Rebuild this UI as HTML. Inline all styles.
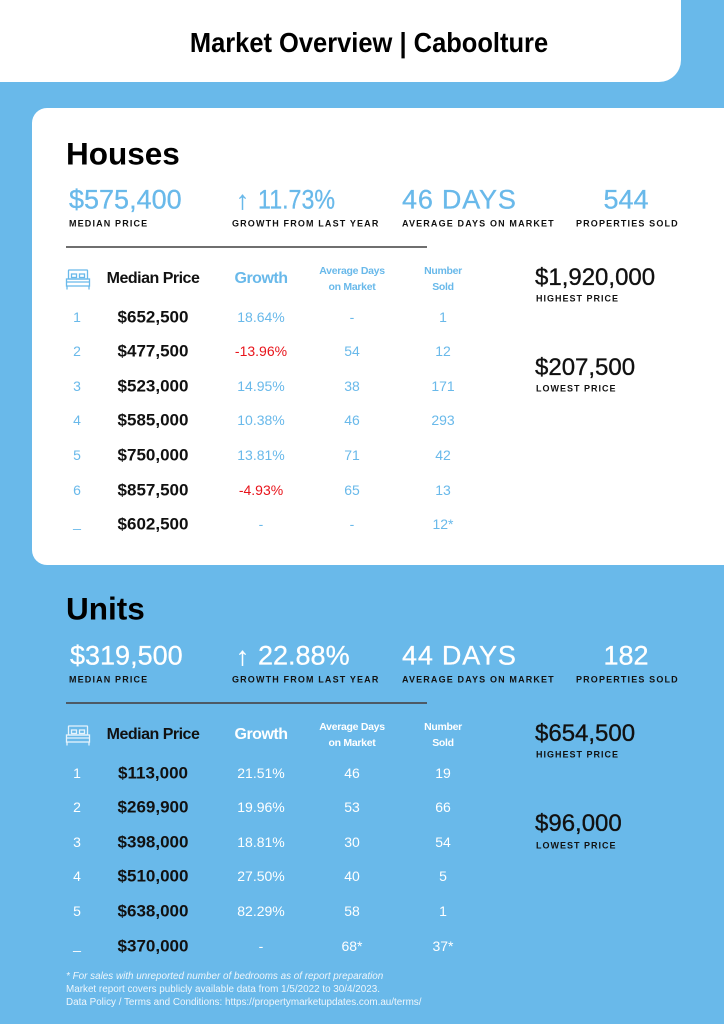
<!DOCTYPE html>
<html>
<head>
<meta charset="utf-8">
<style>
*{box-sizing:border-box}
html,body{margin:0;padding:0}
body{width:724px;height:1024px;background:#69b9ea;position:relative;overflow:hidden;font-family:"Liberation Sans",sans-serif}
.a{position:absolute;white-space:nowrap;line-height:1}
.c{transform:translate(-50%,-50%)}
.l{transform:translateY(-50%)}
.hdr{position:absolute;left:0;top:0;width:681px;height:82px;background:#fff;border-bottom-right-radius:22px}
.card{position:absolute;left:32px;top:108px;width:720px;height:457px;background:#fff;border-top-left-radius:15px;border-bottom-left-radius:15px}
.title{font-weight:bold;font-size:28px;color:#000;transform:translate(-50%,-50%) scaleX(0.91)}
.sec{font-weight:bold;font-size:31.5px;color:#000}
.stat{font-size:27px}
.blue{color:#69b9ea}
.white{color:#fff}
.stat.blue{-webkit-text-stroke:0.3px #69b9ea}
.stat.white{-webkit-text-stroke:0.3px #fff}
.lab{font-weight:bold;font-size:9px;letter-spacing:1.15px;color:#111}
.rule{position:absolute;left:66px;width:361px;height:2px;background:#6f6f6f}
.th{font-weight:bold;font-size:16px;letter-spacing:-0.5px}
.th2{font-weight:bold;font-size:10.5px;letter-spacing:-0.3px;line-height:16px;text-align:center}
.pr{font-weight:bold;font-size:17px;color:#111}
.v{font-size:14px}
.red{color:#e8141b}
.big{font-size:24px;color:#111;-webkit-text-stroke:0.35px #111}
.foot{font-size:9.9px;color:#eef6fc;line-height:13px}
</style>
</head>
<body>
<div class="hdr"></div>
<div class="a title" style="left:368.5px;top:43px">Market Overview | Caboolture</div>

<div class="card"></div>

<!-- HOUSES -->
<div class="a l sec" style="left:66px;top:154px">Houses</div>

<div class="a l stat blue" style="left:69px;top:200px">$575,400</div>
<div class="a l stat blue" style="left:236px;top:200px;font-size:26px">↑</div>
<div class="a l stat blue" style="left:258px;top:200px;transform:translateY(-50%) scaleX(0.86);transform-origin:left center">11.73%</div>
<div class="a l stat blue" style="left:402px;top:200px;letter-spacing:0.8px">46 DAYS</div>
<div class="a c stat blue" style="left:626px;top:200px">544</div>

<div class="a l lab" style="left:69px;top:224px">MEDIAN PRICE</div>
<div class="a l lab" style="left:232px;top:224px">GROWTH FROM LAST YEAR</div>
<div class="a l lab" style="left:402px;top:224px">AVERAGE DAYS ON MARKET</div>
<div class="a l lab" style="left:576px;top:224px">PROPERTIES SOLD</div>

<div class="rule" style="top:246px"></div>

<svg class="a" style="left:65px;top:269px" width="26" height="22" viewBox="0 0 26 22" fill="none" stroke="#69b9ea" stroke-width="1.3">
  <rect x="3.5" y="1" width="19" height="9" rx="0.5"/>
  <rect x="6.5" y="5" width="5" height="3.5"/>
  <rect x="14.5" y="5" width="5" height="3.5"/>
  <rect x="1.5" y="10" width="23" height="7"/>
  <line x1="1.5" y1="13" x2="24.5" y2="13"/>
  <line x1="2" y1="17" x2="2" y2="20.5"/>
  <line x1="24" y1="17" x2="24" y2="20.5"/>
</svg>
<div class="a c th" style="left:153px;top:279px;color:#111">Median Price</div>
<div class="a c th blue" style="left:261px;top:279px">Growth</div>
<div class="a c th2 blue" style="left:352px;top:279px">Average Days<br>on Market</div>
<div class="a c th2 blue" style="left:443px;top:279px">Number<br>Sold</div>

<!-- houses rows -->
<div class="a c v blue" style="left:77px;top:317px">1</div>
<div class="a c pr" style="left:153px;top:317px">$652,500</div>
<div class="a c v blue" style="left:261px;top:317px">18.64%</div>
<div class="a c v blue" style="left:352px;top:317px">-</div>
<div class="a c v blue" style="left:443px;top:317px">1</div>

<div class="a c v blue" style="left:77px;top:351px">2</div>
<div class="a c pr" style="left:153px;top:351px">$477,500</div>
<div class="a c v red" style="left:261px;top:351px">-13.96%</div>
<div class="a c v blue" style="left:352px;top:351px">54</div>
<div class="a c v blue" style="left:443px;top:351px">12</div>

<div class="a c v blue" style="left:77px;top:386px">3</div>
<div class="a c pr" style="left:153px;top:386px">$523,000</div>
<div class="a c v blue" style="left:261px;top:386px">14.95%</div>
<div class="a c v blue" style="left:352px;top:386px">38</div>
<div class="a c v blue" style="left:443px;top:386px">171</div>

<div class="a c v blue" style="left:77px;top:420px">4</div>
<div class="a c pr" style="left:153px;top:420px">$585,000</div>
<div class="a c v blue" style="left:261px;top:420px">10.38%</div>
<div class="a c v blue" style="left:352px;top:420px">46</div>
<div class="a c v blue" style="left:443px;top:420px">293</div>

<div class="a c v blue" style="left:77px;top:455px">5</div>
<div class="a c pr" style="left:153px;top:455px">$750,000</div>
<div class="a c v blue" style="left:261px;top:455px">13.81%</div>
<div class="a c v blue" style="left:352px;top:455px">71</div>
<div class="a c v blue" style="left:443px;top:455px">42</div>

<div class="a c v blue" style="left:77px;top:490px">6</div>
<div class="a c pr" style="left:153px;top:490px">$857,500</div>
<div class="a c v red" style="left:261px;top:490px">-4.93%</div>
<div class="a c v blue" style="left:352px;top:490px">65</div>
<div class="a c v blue" style="left:443px;top:490px">13</div>

<div class="a c v blue" style="left:77px;top:522px">_</div>
<div class="a c pr" style="left:153px;top:524px">$602,500</div>
<div class="a c v blue" style="left:261px;top:524px">-</div>
<div class="a c v blue" style="left:352px;top:524px">-</div>
<div class="a c v blue" style="left:443px;top:524px">12*</div>

<div class="a l big" style="left:535px;top:277.5px">$1,920,000</div>
<div class="a l lab" style="left:536px;top:299px;letter-spacing:1px">HIGHEST PRICE</div>
<div class="a l big" style="left:535px;top:367.5px">$207,500</div>
<div class="a l lab" style="left:536px;top:389px;letter-spacing:1px">LOWEST PRICE</div>

<!-- UNITS -->
<div class="a l sec" style="left:66px;top:609px">Units</div>

<div class="a l stat white" style="left:70px;top:656px">$319,500</div>
<div class="a l stat white" style="left:236px;top:656px;font-size:26px">↑</div>
<div class="a l stat white" style="left:258px;top:656px">22.88%</div>
<div class="a l stat white" style="left:402px;top:656px;letter-spacing:0.8px">44 DAYS</div>
<div class="a c stat white" style="left:626px;top:656px">182</div>

<div class="a l lab" style="left:69px;top:680px">MEDIAN PRICE</div>
<div class="a l lab" style="left:232px;top:680px">GROWTH FROM LAST YEAR</div>
<div class="a l lab" style="left:402px;top:680px">AVERAGE DAYS ON MARKET</div>
<div class="a l lab" style="left:576px;top:680px">PROPERTIES SOLD</div>

<div class="rule" style="top:702px;background:#4d5a66"></div>

<svg class="a" style="left:65px;top:725px" width="26" height="22" viewBox="0 0 26 22" fill="none" stroke="#e6f3fc" stroke-width="1.3">
  <rect x="3.5" y="1" width="19" height="9" rx="0.5"/>
  <rect x="6.5" y="5" width="5" height="3.5"/>
  <rect x="14.5" y="5" width="5" height="3.5"/>
  <rect x="1.5" y="10" width="23" height="7"/>
  <line x1="1.5" y1="13" x2="24.5" y2="13"/>
  <line x1="2" y1="17" x2="2" y2="20.5"/>
  <line x1="24" y1="17" x2="24" y2="20.5"/>
</svg>
<div class="a c th" style="left:153px;top:735px;color:#111">Median Price</div>
<div class="a c th white" style="left:261px;top:735px">Growth</div>
<div class="a c th2 white" style="left:352px;top:735px">Average Days<br>on Market</div>
<div class="a c th2 white" style="left:443px;top:735px">Number<br>Sold</div>

<div class="a c v white" style="left:77px;top:773px">1</div>
<div class="a c pr" style="left:153px;top:773px">$113,000</div>
<div class="a c v white" style="left:261px;top:773px">21.51%</div>
<div class="a c v white" style="left:352px;top:773px">46</div>
<div class="a c v white" style="left:443px;top:773px">19</div>

<div class="a c v white" style="left:77px;top:807px">2</div>
<div class="a c pr" style="left:153px;top:807px">$269,900</div>
<div class="a c v white" style="left:261px;top:807px">19.96%</div>
<div class="a c v white" style="left:352px;top:807px">53</div>
<div class="a c v white" style="left:443px;top:807px">66</div>

<div class="a c v white" style="left:77px;top:842px">3</div>
<div class="a c pr" style="left:153px;top:842px">$398,000</div>
<div class="a c v white" style="left:261px;top:842px">18.81%</div>
<div class="a c v white" style="left:352px;top:842px">30</div>
<div class="a c v white" style="left:443px;top:842px">54</div>

<div class="a c v white" style="left:77px;top:876px">4</div>
<div class="a c pr" style="left:153px;top:876px">$510,000</div>
<div class="a c v white" style="left:261px;top:876px">27.50%</div>
<div class="a c v white" style="left:352px;top:876px">40</div>
<div class="a c v white" style="left:443px;top:876px">5</div>

<div class="a c v white" style="left:77px;top:911px">5</div>
<div class="a c pr" style="left:153px;top:911px">$638,000</div>
<div class="a c v white" style="left:261px;top:911px">82.29%</div>
<div class="a c v white" style="left:352px;top:911px">58</div>
<div class="a c v white" style="left:443px;top:911px">1</div>

<div class="a c v white" style="left:77px;top:944px">_</div>
<div class="a c pr" style="left:153px;top:946px">$370,000</div>
<div class="a c v white" style="left:261px;top:946px">-</div>
<div class="a c v white" style="left:352px;top:946px">68*</div>
<div class="a c v white" style="left:443px;top:946px">37*</div>

<div class="a l big" style="left:535px;top:733.5px">$654,500</div>
<div class="a l lab" style="left:536px;top:755px;letter-spacing:1px">HIGHEST PRICE</div>
<div class="a l big" style="left:535px;top:823.5px">$96,000</div>
<div class="a l lab" style="left:536px;top:845.5px;letter-spacing:1px">LOWEST PRICE</div>

<!-- footer -->
<div class="a foot" style="left:66px;top:970px">
<i>* For sales with unreported number of bedrooms as of report preparation</i><br>
Market report covers publicly available data from 1/5/2022 to 30/4/2023.<br>
Data Policy / Terms and Conditions: https://propertymarketupdates.com.au/terms/
</div>
</body>
</html>
